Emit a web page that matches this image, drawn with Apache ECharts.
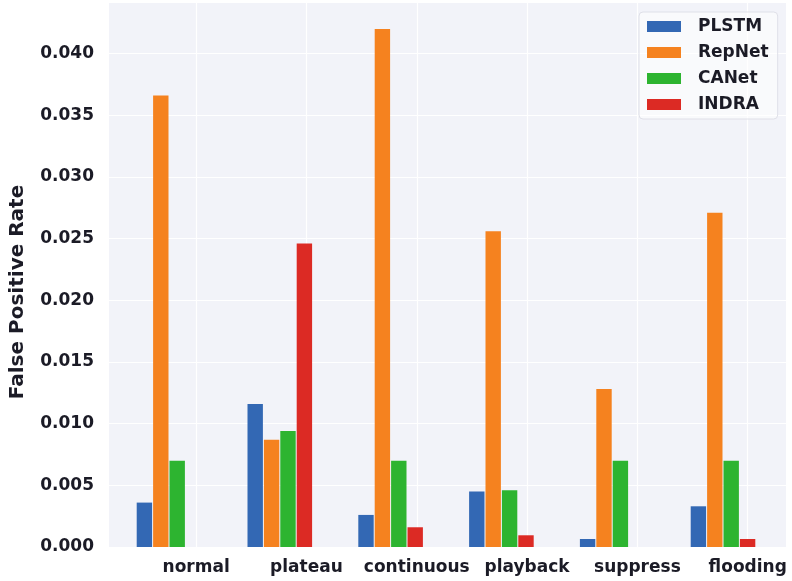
<!DOCTYPE html>
<html>
<head>
<meta charset="utf-8">
<title>False Positive Rate by Attack Type</title>
<script src="https://cdn.jsdelivr.net/npm/echarts@6/dist/echarts.min.js"></script>
<style>
  html, body { margin: 0; padding: 0; background: #ffffff; }
  #chart { width: 792px; height: 581px; }
</style>
</head>
<body>
<div id="chart"></div>
<script>
// Attack scenarios along the x axis
const categories = ['normal', 'plateau', 'continuous', 'playback', 'suppress', 'flooding'];

// False positive rate of each detector per scenario
const plstm  = [0.0036, 0.0116, 0.0026, 0.0045, 0.00065, 0.0033];
const repnet = [0.0366, 0.0087, 0.0420, 0.0256, 0.0128, 0.0271];
const canet  = [0.0070, 0.0094, 0.0070, 0.0046, 0.0070, 0.0070];
const indra  = [0.0,    0.0246, 0.0016, 0.00095, 0.0,   0.00065];

const yTicks = [0.000, 0.005, 0.010, 0.015, 0.020, 0.025, 0.030, 0.035, 0.040];

const seriesNames = ['PLSTM', 'RepNet', 'CANet', 'INDRA'];
const seriesData = [plstm, repnet, canet, indra];
const colors = ['#3368b4', '#f5821f', '#2db430', '#dc2a24'];

const FONT = 'DejaVu Sans';
const TEXT = '#1b1b26';
const Y_MAX = 0.0441;

// Label axis: integer positions sit under the last bar of each group
const labelMin = -0.79;
const labelMax = 5.347;

const chart = echarts.init(document.getElementById('chart'), null, { renderer: 'canvas' });

chart.setOption({
  animation: false,
  backgroundColor: '#ffffff',
  color: colors,
  grid: [
    { // backdrop, gridlines, labels
      left: 106, right: 6, top: 3, bottom: 34,
      show: true, backgroundColor: '#f2f3f9', borderWidth: 0
    },
    { // bar groups
      left: 113.6, right: 13.6, top: 3, bottom: 34
    }
  ],
  xAxis: [
    {
      gridIndex: 0,
      type: 'value',
      min: labelMin,
      max: labelMax,
      minInterval: 1,
      maxInterval: 1,
      splitNumber: 6,
      axisLine: { show: false },
      axisTick: { show: false },
      splitLine: {
        show: true, showMinLine: false, showMaxLine: false,
        lineStyle: { color: '#ffffff', width: 1.2 }
      },
      axisLabel: {
        margin: 12,
        fontFamily: FONT,
        fontWeight: 'bold',
        fontSize: 17,
        color: TEXT,
        showMinLabel: false,
        showMaxLabel: false,
        formatter: function (v) {
          const r = Math.round(v);
          return Math.abs(v - r) < 1e-6 && r >= 0 && r < categories.length ? categories[r] : '';
        }
      }
    },
    {
      gridIndex: 1,
      type: 'category',
      data: categories,
      show: false
    }
  ],
  yAxis: [
    {
      gridIndex: 0,
      type: 'value',
      min: 0,
      max: Y_MAX,
      interval: 0.005,
      name: 'False Positive Rate',
      nameLocation: 'middle',
      nameGap: 81,
      nameTextStyle: {
        fontFamily: FONT,
        fontWeight: 'bold',
        fontSize: 20,
        color: TEXT,
        padding: [0, 34, 0, 0]
      },
      axisLine: { show: false },
      axisTick: { show: false },
      splitLine: {
        show: true, showMaxLine: false,
        lineStyle: { color: '#ffffff', width: 1.2 }
      },
      axisLabel: {
        margin: 15,
        fontFamily: FONT,
        fontWeight: 'bold',
        fontSize: 17,
        color: TEXT,
        showMaxLabel: false,
        formatter: function (v) {
          const hit = yTicks.find(t => Math.abs(t - v) < 1e-9);
          return hit === undefined ? '' : hit.toFixed(3);
        }
      }
    },
    {
      gridIndex: 1,
      type: 'value',
      min: 0,
      max: Y_MAX,
      show: false,
      splitLine: { show: false }
    }
  ],
  legend: {
    orient: 'vertical',
    left: 639,
    top: 12,
    data: seriesNames,
    icon: 'rect',
    itemWidth: 34,
    itemHeight: 11,
    itemGap: 9,
    padding: [6, 9, 6, 8],
    backgroundColor: 'rgba(255,255,255,0.55)',
    borderColor: '#dfe0e8',
    borderWidth: 1,
    borderRadius: 4,
    textStyle: {
      fontFamily: FONT,
      fontWeight: 'bold',
      fontSize: 17,
      color: TEXT,
      padding: [0, 0, 0, 12]
    }
  },
  series: seriesNames.map((name, i) => ({
    name: name,
    type: 'bar',
    xAxisIndex: 1,
    yAxisIndex: 1,
    data: seriesData[i],
    barWidth: 15.4,
    barGap: '6.5%',
    itemStyle: { color: colors[i] }
  }))
});
</script>
</body>
</html>
